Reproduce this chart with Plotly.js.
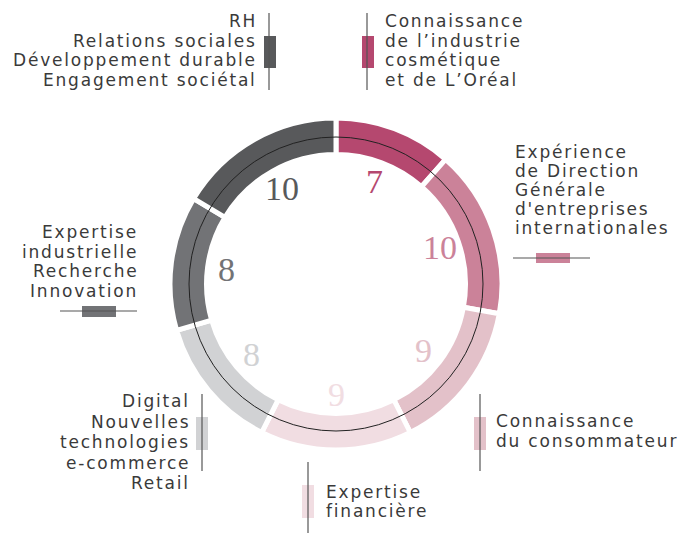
<!DOCTYPE html>
<html><head><meta charset="utf-8">
<script src="https://cdn.plot.ly/plotly-3.0.1.min.js"></script>
<style>
html,body{margin:0;padding:0;background:#fff}
text.annotation-text{letter-spacing:1.8px}
text.annotation-text[style*="Serif"]{letter-spacing:0}
</style>
</head><body><div id="chart" style="width:679px;height:533px"></div>
<script>
// ---- data ----
const categories = [
  "Connaissance de l’industrie cosmétique et de L’Oréal",
  "Expérience de Direction Générale d'entreprises internationales",
  "Connaissance du consommateur",
  "Expertise financière",
  "Digital Nouvelles technologies e-commerce Retail",
  "Expertise industrielle Recherche Innovation",
  "RH Relations sociales Développement durable Engagement sociétal"
];
const values = [7, 10, 9, 9, 8, 8, 10];
const colors = ["#b5486f", "#cb8299", "#e3c1c9", "#f1dde2", "#d1d2d4", "#727376", "#58595b"];
const labelLines = [
  ["Connaissance", "de l’industrie", "cosmétique", "et de L’Oréal"],
  ["Expérience", "de Direction", "Générale", "d'entreprises", "internationales"],
  ["Connaissance", "du consommateur"],
  ["Expertise", "financière"],
  ["Digital", "Nouvelles", "technologies", "e-commerce", "Retail"],
  ["Expertise", "industrielle", "Recherche", "Innovation"],
  ["RH", "Relations sociales", "Développement durable", "Engagement sociétal"]
];

// ---- layout helpers ----
const W = 679, H = 533;
const px = x => x / W, py = y => 1 - y / H;
const CX = 336, CY = 284, R = 166, HOLE = 0.78;
const TXT = "#3a3a3a", LINE = "#555";
const FONT = "DejaVu Sans, sans-serif";
const FS = 17;

const spec = [
  {tx:383, anchor:'left',  y0:27,  ls:19.5, vline:[367,13,90],  bar:[362,36,374,68]},
  {tx:513, anchor:'left',  y0:158, ls:19,   hline:[513,590,258], bar:[536,253,570,263]},
  {tx:494, anchor:'left',  y0:427, ls:20,   vline:[480,394,471], bar:[474,417,486,450]},
  {tx:324, anchor:'left',  y0:498, ls:19,   vline:[308,462,533], bar:[302,485,314,518]},
  {tx:192, anchor:'right', y0:407, ls:20.5, vline:[202,394,471], bar:[196,417,208,450]},
  {tx:140, anchor:'right', y0:238, ls:19.5, hline:[60,137,311],  bar:[82,306,116,317]},
  {tx:259, anchor:'right', y0:27,  ls:19.5, vline:[269,13,90],  bar:[264,36,276,68]}
];

const annotations = [];
const shapes = [];

// ring centre line
const RC = 147;
shapes.push({type:'circle', xref:'paper', yref:'paper', layer:'above',
  x0:px(CX-RC), x1:px(CX+RC), y0:py(CY+RC), y1:py(CY-RC),
  line:{color:'#222', width:1}});

spec.forEach((s, i) => {
  shapes.push({type:'rect', xref:'paper', yref:'paper', layer:'above',
    x0:px(s.bar[0]), x1:px(s.bar[2]), y0:py(s.bar[3]), y1:py(s.bar[1]),
    fillcolor:colors[i], line:{width:0}});
  if (s.vline) shapes.push({type:'line', xref:'paper', yref:'paper', layer:'above',
    x0:px(s.vline[0]), x1:px(s.vline[0]), y0:py(s.vline[1]), y1:py(s.vline[2]),
    line:{color:LINE, width:1.2}});
  if (s.hline) shapes.push({type:'line', xref:'paper', yref:'paper', layer:'above',
    x0:px(s.hline[0]), x1:px(s.hline[1]), y0:py(s.hline[2]), y1:py(s.hline[2]),
    line:{color:LINE, width:1.2}});
  labelLines[i].forEach((t, k) => {
    annotations.push({text:t, xref:'paper', yref:'paper', showarrow:false,
      x:px(s.tx), y:py(s.y0 + k*s.ls - 6), xanchor:s.anchor, yanchor:'middle',
      align:s.anchor, font:{family:FONT, size:FS, color:TXT}});
  });
});

// value labels inside the ring, at each slice's mid-angle
const total = values.reduce((a,b)=>a+b, 0);
let cum = 0;
const RL = 110;
values.forEach((v, i) => {
  const th = (cum + v/2) / total * 2 * Math.PI;
  cum += v;
  annotations.push({text:String(v), xref:'paper', yref:'paper', showarrow:false,
    x:px(CX + RL*Math.sin(th)), y:py(CY - RL*Math.cos(th)),
    xanchor:'center', yanchor:'middle',
    font:{family:"Liberation Serif, serif", size:34, color:colors[i]}});
});

const trace = {
  type:'pie', labels:categories, values:values, sort:false,
  direction:'clockwise', rotation:0, hole:HOLE,
  marker:{colors:colors, line:{color:'#ffffff', width:5}},
  textinfo:'none', hoverinfo:'none', showlegend:false,
  domain:{x:[px(CX-R), px(CX+R)], y:[py(CY+R), py(CY-R)]}
};

Plotly.newPlot('chart', [trace], {
  width:W, height:H, margin:{l:0,r:0,t:0,b:0},
  paper_bgcolor:'#fff', plot_bgcolor:'#fff', showlegend:false,
  annotations:annotations, shapes:shapes
}, {staticPlot:true});
</script></body></html>
